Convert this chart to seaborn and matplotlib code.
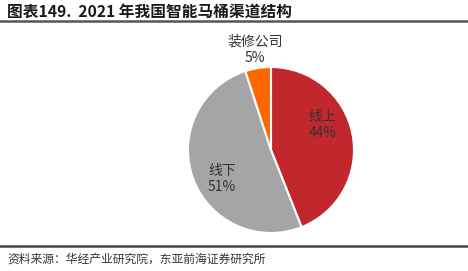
import numpy as np
import matplotlib
matplotlib.use("Agg")
import matplotlib.pyplot as plt
import seaborn as sns

categories = ["线上", "线下", "装修公司"]
shares = [44, 51, 5]
colors = ["#C1272D", "#A5A5A5", "#FF6600"]
label_dist = [0.69, 0.69, 1.22]
label_angle_shift = [15, 11, 0]
title = "图表149.  2021 年我国智能马桶渠道结构"
source = "资料来源：华经产业研究院，东亚前海证券研究所"

sns.set_theme(style="white")
plt.rcParams['font.family'] = ['Noto Sans CJK SC', 'DejaVu Sans']

W, H = 468, 271
fig = plt.figure(figsize=(W / 100, H / 100), dpi=100)
fig.patch.set_facecolor("white")

# pie axes: center (271,150) px, radius 83 px
cx, cy, r = 271, 150, 83
side = 2 * r
ax = fig.add_axes([(cx - r) / W, 1 - (cy + r) / H, side / W, side / H])
wedges, _ = ax.pie(shares, colors=colors, startangle=90, counterclock=False,
                   wedgeprops=dict(edgecolor="white", linewidth=1.5))
ax.set_xlim(-1, 1)
ax.set_ylim(-1, 1)
ax.set_aspect("equal")
ax.axis("off")

for w, cat, val, d, sh in zip(wedges, categories, shares, label_dist, label_angle_shift):
    ang = np.deg2rad((w.theta1 + w.theta2) / 2 + sh)
    ax.text(d * np.cos(ang), d * np.sin(ang), f"{cat}\n{val}%",
            ha="center", va="center", fontsize=10, color="#333333",
            linespacing=1.2, clip_on=False)

fig.text(7 / W, 1 - 12 / H, title, ha="left", va="center", fontsize=11.3,
         fontweight="bold", color="#1a1a1a")
fig.add_artist(plt.Line2D([0, 1], [1 - 21 / H, 1 - 21 / H], color="#555555",
                          linewidth=1.8, transform=fig.transFigure))
fig.add_artist(plt.Line2D([0, 1], [1 - 245.5 / H, 1 - 245.5 / H], color="#444444",
                          linewidth=1.8, transform=fig.transFigure))
fig.text(7 / W, 1 - 259 / H, source, ha="left", va="center", fontsize=8.5,
         color="#333333")

fig.savefig("out.png", dpi=100, facecolor="white")
